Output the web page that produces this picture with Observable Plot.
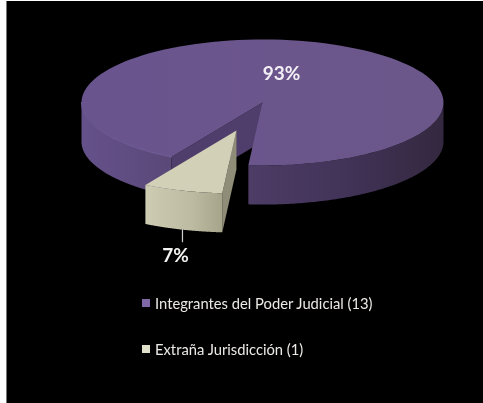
<!DOCTYPE html>
<html><head><meta charset="utf-8">
<script src="https://cdn.jsdelivr.net/npm/d3@7"></script>
<script src="https://cdn.jsdelivr.net/npm/@observablehq/plot@0.6"></script>
<style>
html,body{margin:0;padding:0;background:#fff;width:483px;height:403px;overflow:hidden}
#frame{position:absolute;left:6px;top:1px;width:476px;height:402px;background:#000;border-left:1px solid #777;font-family:Lato,sans-serif;color:#eceae6;overflow:hidden}
#frame svg{display:block;filter:blur(.45px)}
.row{position:absolute;left:135px;display:flex;align-items:center;font-size:14.75px;line-height:18px;white-space:nowrap;filter:blur(.35px)}
.sw{width:8px;height:8px;margin-right:5px;display:inline-block}
</style></head><body><div id="frame"></div>
<script>
// Chart values
const categories = ["Integrantes del Poder Judicial", "Extraña Jurisdicción"];
const counts = [13, 1];
const percentLabels = ["93%", "7%"];
const colors = ["#6b558c", "#d2d0b6"];
const legendColors = ["#7e68a6", "#e2e1cb"];

// Pie layout
const startAngle = 210.2;        // clockwise from north, degrees
const depth = 0.62;              // wall height in y-radii
const explode = [-0.144, 0.444]; // offset of the small slice (x-radii, y-radii)
const total = d3.sum(counts);
const sweep = counts.map(c => c / total * 360);
const pt = (deg, r = 1) => ({x: r * Math.sin(deg * Math.PI / 180), y: -r * Math.cos(deg * Math.PI / 180)});
const arc = (a, b) => d3.range(0, 121).map(i => pt(a + (b - a) * i / 120));
const shift = (ps, dx, dy) => ps.map(p => ({x: p.x + dx, y: p.y + dy}));

const a0 = startAngle, a1 = startAngle + sweep[0], a2 = a1 + sweep[1];
const apex = {x: 0, y: 0};

// Large slice
const top1 = [apex, ...arc(a0, a1)];
const rightWall = arc(90, a1 - 360);
const side1 = [...rightWall, ...shift(rightWall, 0, depth).reverse()];
const leftArc = arc(a0, 270);
const side2 = [...leftArc, ...shift(leftArc, 0, depth).reverse()];
const e0 = pt(a0);
const cut = [apex, e0, {x: e0.x, y: e0.y + depth}, {x: 0, y: depth}];

// Small slice, pulled out
const [ex, ey] = explode;
const arcS = arc(a1, a2);
const topS = shift([apex, ...arcS], ex, ey);
const frontS = shift([...arcS, ...shift(arcS, 0, depth).reverse()], ex, ey);
const endS = pt(a1);
const wallS = shift([apex, endS, {x: endS.x, y: endS.y + depth}, {x: 0, y: depth}], ex, ey);

const midS = pt(a1 + sweep[1] / 2);
const lead0 = {x: midS.x + ex, y: midS.y + ey + depth};
const lead1 = {x: lead0.x, y: lead0.y + 0.19};
const midL = pt(a0 + sweep[0] / 2, 0.5);

const grad = (id, stops) => () => {
  const g = d3.create("svg:linearGradient").attr("id", id);
  stops.forEach(([o, c]) => g.append("stop").attr("offset", o).attr("stop-color", c));
  return g.node();
};
const shape = (data, fill) => Plot.line(data, {x: "x", y: "y", fill, stroke: "none"});

const chart = Plot.plot({
  width: 476, height: 270, margin: 0,
  style: {background: "#000", overflow: "visible"},
  x: {domain: [-1, 1], range: [74, 436], axis: null},
  y: {domain: [-1, 1], range: [38, 164], axis: null},
  marks: [
    grad("gR", [[0, "#4d3c65"], [0.45, "#43345a"], [1, "#33283f"]]),
    grad("gL", [[0, "#65518a"], [1, "#5a4878"]]),
    grad("gF", [[0, "#cdcbb1"], [0.6, "#bdbba1"], [1, "#a6a48b"]]),
    grad("gT", [[0, "#6a548e"], [1, "#6c578a"]]),
    shape(side1, "url(#gR)"),
    shape(side2, "url(#gL)"),
    shape(cut, "#4f3e6b"),
    shape(top1, "url(#gT)"),
    Plot.line(leftArc, {x: "x", y: "y", stroke: "#7664a0", strokeWidth: 1}),
    shape(wallS, "#8f8d78"),
    shape(frontS, "url(#gF)"),
    shape(topS, colors[1]),
    Plot.line([lead0, lead1], {x: "x", y: "y", stroke: "#cfcfcf", strokeWidth: 1.2}),
    Plot.text([{...midL, t: percentLabels[0]}], {x: "x", y: "y", text: "t", dx: -8, dy: 1, fill: "#f2eff5", fontSize: 19, fontWeight: 700, fontFamily: "Lato"}),
    Plot.text([{...lead1, t: percentLabels[1]}], {x: "x", y: "y", text: "t", dx: -7, dy: 14, fill: "#f2f2f0", fontSize: 19, fontWeight: 700, fontFamily: "Lato"})
  ]
});
const frame = document.getElementById("frame");
frame.appendChild(chart);

// Legend under the SVG
const rowTops = [293, 339];
categories.forEach((c, i) => {
  const row = document.createElement("div");
  row.className = "row";
  row.style.top = rowTops[i] + "px";
  const sw = document.createElement("span");
  sw.className = "sw";
  sw.style.background = legendColors[i];
  row.appendChild(sw);
  row.appendChild(document.createTextNode(`${c} (${counts[i]})`));
  frame.appendChild(row);
});
</script></body></html>
